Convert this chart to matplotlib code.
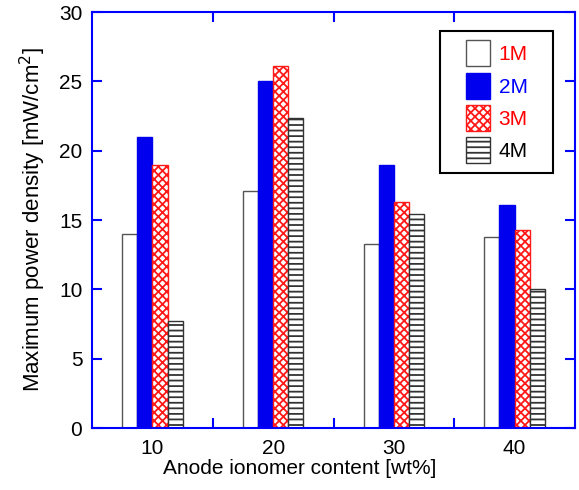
"""
Maximum power density vs anode ionomer content, grouped bar chart
"""
import matplotlib
matplotlib.use('Agg')
import matplotlib.pyplot as plt
from matplotlib.patches import Rectangle
import numpy as np

plt.rcParams['font.family'] = ['Liberation Sans', 'DejaVu Sans']
plt.rcParams['hatch.linewidth'] = 1.3

# data
ionomer = [10, 20, 30, 40]
labels = ['1M', '2M', '3M', '4M']
power_1m = [14.0, 17.1, 13.3, 13.75]
power_2m = [21.0, 25.0, 19.0, 16.1]
power_3m = [19.0, 26.1, 16.3, 14.3]
power_4m = [7.7, 22.35, 15.4, 10.0]

fig = plt.figure(figsize=(5.79, 4.9), dpi=100)
ax = fig.add_axes([0.159, 0.1265, 0.834, 0.849])

width = 1.25
x = np.array(ionomer, dtype=float)
series = [power_1m, power_2m, power_3m, power_4m]
styles = [
    dict(facecolor='white', edgecolor='#555555', hatch=None),
    dict(facecolor='#0000ee', edgecolor='#0000ee', hatch=None),
    dict(facecolor='white', edgecolor='#ff1a1a', hatch='xxxx'),
    dict(facecolor='white', edgecolor='#333333', hatch='---'),
]
text_colors = ['red', 'blue', 'red', 'black']

handles = []
for i, (vals, st) in enumerate(zip(series, styles)):
    bars = ax.bar(x + (i - 1.5) * width, vals, width, label=labels[i],
                  linewidth=1.0, **st)
    handles.append(bars)

ax.set_xlim(5, 45)
ax.set_ylim(0, 30)

# ticks: marks at 15/25/35, labels at 10/20/30/40
ax.set_xticks([15, 25, 35])
ax.set_xticklabels([])
ax.set_xticks(ionomer, minor=True)
ax.set_xticklabels([str(v) for v in ionomer], minor=True)
ax.tick_params(axis='x', which='minor', length=0, pad=8, labelsize=15)
ax.set_yticks(range(0, 31, 5))
ax.tick_params(axis='both', which='major', direction='in', length=7,
               width=1.5, color='blue', top=True, right=True, labelsize=15)
ax.tick_params(axis='y', pad=7)

for sp in ax.spines.values():
    sp.set_color('blue')
    sp.set_linewidth(1.5)

ax.set_xlabel('Anode ionomer content [wt%]', fontsize=15)
ax.xaxis.set_label_coords(0.43, -0.075)
ax.set_ylabel('Maximum power density [mW/cm$^2$]', fontsize=16, labelpad=8)

# legend: entries without frame, box drawn separately
leg = ax.legend(handles=handles, loc='upper left', bbox_to_anchor=(0.774, 0.932),
                fontsize=15, frameon=False, handlelength=1.15,
                handleheight=1.55, handletextpad=0.43, labelspacing=0.3,
                borderpad=0, borderaxespad=0)
for txt, c in zip(leg.get_texts(), text_colors):
    txt.set_color(c)
ax.add_patch(Rectangle((0.7205, 0.613), 0.234, 0.341, transform=ax.transAxes,
                       facecolor='white', edgecolor='black', linewidth=1.5,
                       zorder=4))
leg.set_zorder(5)

fig.savefig('out.png', dpi=100, facecolor='white')
